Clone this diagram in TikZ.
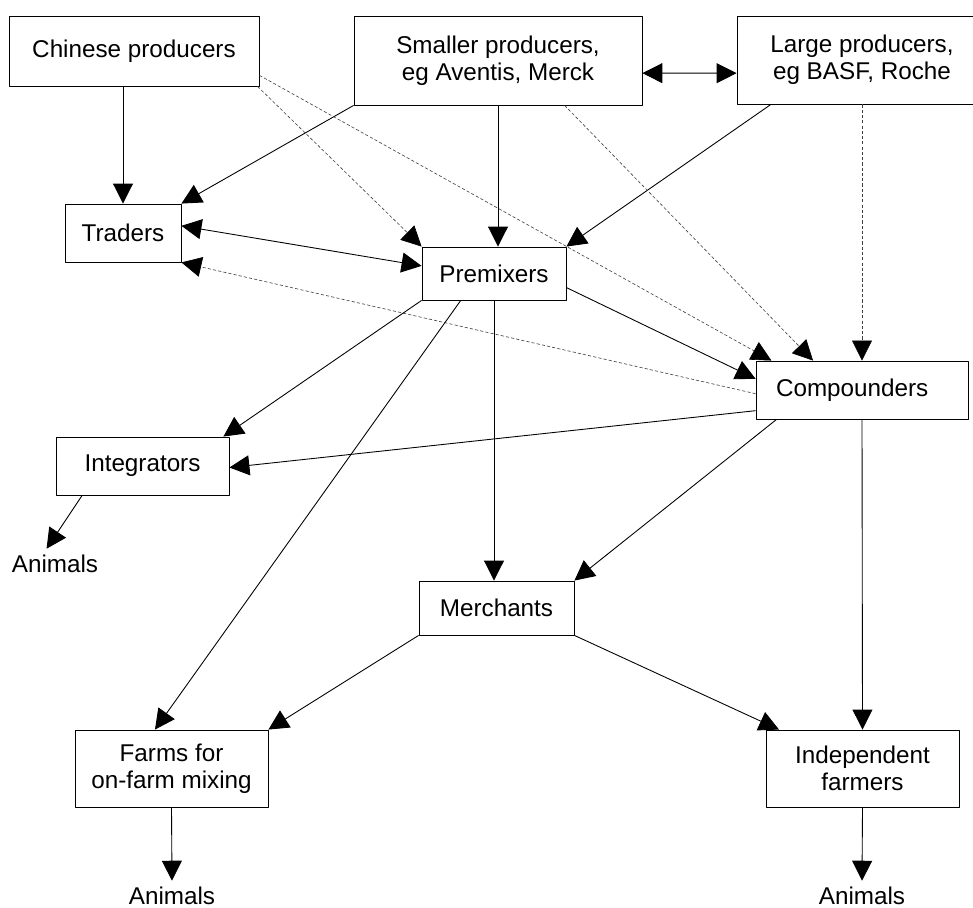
\documentclass[tikz,border=0pt]{standalone}
\usepackage{fontspec}
\setmainfont{Liberation Sans}
\usetikzlibrary{arrows.meta}
\begin{document}
\begin{tikzpicture}[x=0.02cm, y=-0.02cm, font=\fontsize{13.8}{15.4}\selectfont, line join=round, line width=0.5pt,
  >={Triangle[length=0.4cm,width=0.4cm]},
  box/.style={draw, inner sep=0pt, align=center},
  weak/.style={draw=black!75, line width=0.35pt, dash pattern=on 1.8pt off 1.2pt, -{Triangle[length=0.4cm,width=0.4cm,black]}},
  animal/.style={inner sep=3pt, anchor=base}]
\useasboundingbox (0,0) rectangle (973,908);
\node[box, minimum width=5cm, minimum height=1.4cm] (chin) at (134,51) {Chinese producers};
\node[box, minimum width=5.76cm, minimum height=1.78cm] (smal) at (498,60.5) {Smaller producers,\\eg Aventis, Merck};
\node[box, minimum width=5cm, minimum height=1.76cm] (larg) at (862,60) {Large producers,\\eg BASF, Roche};
\node[box, minimum width=2.32cm, minimum height=1.16cm] (trad) at (123,233) {Traders};
\node[box, minimum width=2.88cm, minimum height=1.06cm] (prem) at (494,273.5) {Premixers};
\node[box, minimum width=4.24cm, minimum height=1.16cm, text width=3.44cm, align=left, inner xsep=0.4cm] (comp) at (862,390) {Compounders};
\node[box, minimum width=3.46cm, minimum height=1.16cm] (intg) at (142.5,466) {Integrators};
\node[box, minimum width=3.1cm, minimum height=1.08cm] (merc) at (496.5,608) {Merchants};
\node[box, minimum width=3.86cm, minimum height=1.54cm] (farm) at (171.5,768.5) {Farms for\\on-farm mixing};
\node[box, minimum width=3.86cm, minimum height=1.54cm] (indp) at (862.5,768.5) {Independent\\farmers};
\node[animal] (ani1) at (55,572) {Animals};
\node[animal] (ani2) at (172,904) {Animals};
\node[animal] (ani3) at (862,904) {Animals};
% producers
\draw[->] (trad.north |- chin.south) -- (trad.north);
\draw[->] (smal.south west) -- (trad.north east);
\draw[->] (smal.south) -- (smal.south |- prem.north);
\draw[->] (larg.206.3) -- (prem.north east);
\draw[<->] (smal.-5) -- (larg.186);
\draw[weak] (chin.-16) -- (prem.north west);
\draw[weak] (chin.-11) -- (comp.162.5);
\draw[weak] (smal.-34.4) -- (comp.149.4);
\draw[weak] (larg.south) -- (comp.north);
% middle
\draw[<->] (trad.7) -- (prem.174);
\draw[->] (prem.-11.4) -- (comp.174.6);
\draw[weak] (comp.182.7) -- (trad.south east);
\draw[->] (prem.south west) -- (intg.20);
\draw[->] (prem.219.6) -- (farm.113.2);
\draw[->] (prem.south) -- (prem.south |- merc.north);
\draw[->] (comp.191.7) -- (intg.-1.3);
\draw[->] (comp.199.5) -- (merc.north east);
\draw[->] (comp.south) -- (indp.north);
\draw[->] (merc.south west) -- (farm.north east);
\draw[->] (merc.south east) -- (indp.155.5);
% animals
\draw[->] (intg.206.8) -- (ani1.120);
\draw[->] (farm.south) -- (ani2.north);
\draw[->] (indp.south) -- (ani3.north);
\end{tikzpicture}
\end{document}
